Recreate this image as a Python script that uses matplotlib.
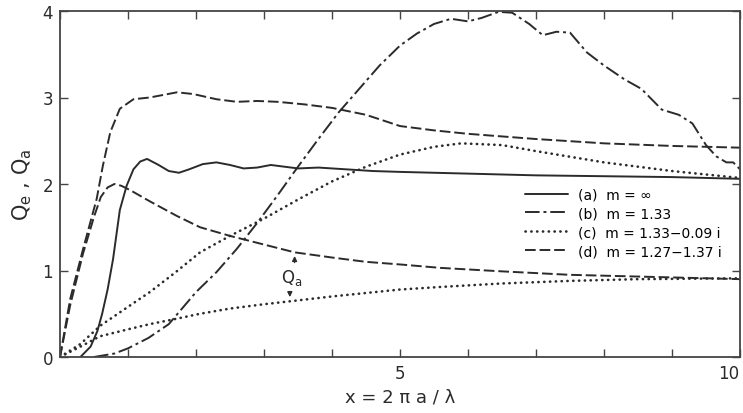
import numpy as np
import matplotlib.pyplot as plt
import matplotlib.transforms as mtransforms

plt.rcParams['font.family'] = 'DejaVu Sans'
plt.rcParams['mathtext.default'] = 'regular'

# (a) m = infinity, extinction
xa = [0.3, 0.45, 0.55, 0.62, 0.7, 0.78, 0.88, 0.98, 1.08, 1.18, 1.28, 1.45, 1.6, 1.75, 1.9,
      2.1, 2.3, 2.5, 2.7, 2.9, 3.1, 3.3, 3.5, 3.8, 4.2, 4.6, 5.0, 6.0, 7.0, 8.0, 9.0, 10.0]
qa_ext = [0.0, 0.12, 0.3, 0.5, 0.78, 1.13, 1.7, 1.98, 2.17, 2.26, 2.29, 2.22, 2.15, 2.13, 2.17,
          2.23, 2.25, 2.22, 2.18, 2.19, 2.22, 2.2, 2.18, 2.19, 2.17, 2.15, 2.14, 2.12, 2.1, 2.09, 2.08, 2.06]

# (b) m = 1.33, extinction
xb = [0.5, 0.8, 1.0, 1.3, 1.6, 2.0, 2.3, 2.6, 2.9, 3.2, 3.5, 3.8, 4.1, 4.4, 4.7, 5.0, 5.25, 5.5,
      5.75, 6.0, 6.2, 6.45, 6.65, 6.9, 7.1, 7.3, 7.5, 7.75, 8.0, 8.3, 8.55, 8.85, 9.1, 9.3, 9.5,
      9.65, 9.8, 9.9, 10.0]
qb_ext = [0.0, 0.04, 0.1, 0.22, 0.38, 0.75, 0.98, 1.25, 1.55, 1.87, 2.2, 2.52, 2.83, 3.1, 3.37,
          3.6, 3.74, 3.85, 3.91, 3.88, 3.92, 3.99, 3.98, 3.85, 3.72, 3.76, 3.75, 3.52, 3.37, 3.21,
          3.1, 2.86, 2.8, 2.7, 2.45, 2.32, 2.25, 2.25, 2.17]

# (c) m = 1.33 - 0.09i, extinction and absorption
xc_ext = [0.0, 0.3, 0.59, 1.0, 1.32, 1.7, 2.06, 2.5, 3.0, 3.5, 4.0, 4.5, 5.0, 5.5, 5.9, 6.5,
          7.0, 8.0, 9.0, 10.0]
qc_ext = [0.0, 0.15, 0.36, 0.58, 0.75, 0.98, 1.21, 1.4, 1.6, 1.82, 2.03, 2.2, 2.34, 2.43,
          2.47, 2.45, 2.38, 2.25, 2.15, 2.07]
xc_abs = [0.0, 0.3, 0.59, 1.0, 1.32, 1.7, 2.06, 2.5, 3.0, 3.45, 4.0, 4.5, 5.0, 5.6, 6.5, 7.5,
          8.5, 10.0]
qc_abs = [0.0, 0.12, 0.24, 0.32, 0.38, 0.44, 0.5, 0.56, 0.61, 0.65, 0.7, 0.74, 0.78, 0.81,
          0.85, 0.88, 0.9, 0.91]

# (d) m = 1.27 - 1.37i, extinction and absorption
xd_ext = [0.0, 0.15, 0.34, 0.54, 0.63, 0.74, 0.88, 1.08, 1.32, 1.72, 1.96, 2.3, 2.6, 2.9, 3.2,
          3.6, 4.0, 4.5, 5.0, 5.5, 6.0, 7.0, 8.0, 9.0, 10.0]
qd_ext = [0.0, 0.67, 1.25, 1.83, 2.21, 2.6, 2.87, 2.98, 3.0, 3.06, 3.04, 2.98, 2.95, 2.96, 2.95,
          2.92, 2.88, 2.8, 2.67, 2.62, 2.58, 2.52, 2.47, 2.44, 2.42]
xd_abs = [0.0, 0.15, 0.34, 0.5, 0.6, 0.7, 0.8, 0.9, 1.03, 1.32, 1.72, 2.06, 2.5, 3.0, 3.45, 4.0,
          4.5, 5.0, 5.6, 6.5, 7.5, 8.5, 10.0]
qd_abs = [0.0, 0.6, 1.2, 1.62, 1.85, 1.96, 2.0, 1.98, 1.93, 1.8, 1.63, 1.5, 1.4, 1.3, 1.21, 1.15,
          1.1, 1.07, 1.03, 0.99, 0.95, 0.93, 0.9]

labels = ['(a)  m = \u221e', '(b)  m = 1.33', '(c)  m = 1.33\u22120.09 i', '(d)  m = 1.27\u22121.37 i']

ink = '#2b2b2b'
lw = 1.4

fig = plt.figure(figsize=(7.43, 4.14), dpi=100)
ax = fig.add_axes([60 / 743, 56 / 414, 680 / 743, 346 / 414])

ha, = ax.plot(xa, qa_ext, color=ink, lw=lw, solid_capstyle='round')
hb, = ax.plot(xb, qb_ext, color=ink, lw=lw, dashes=(7.5, 2, 1.5, 2))
hc, = ax.plot(xc_ext, qc_ext, color=ink, lw=1.9, dashes=(0.1, 2.1), dash_capstyle='round')
ax.plot(xc_abs, qc_abs, color=ink, lw=1.9, dashes=(0.1, 2.1), dash_capstyle='round')
hd, = ax.plot(xd_ext, qd_ext, color=ink, lw=lw, dashes=(5.5, 2))
ax.plot(xd_abs, qd_abs, color=ink, lw=lw, dashes=(5.5, 2))

# absorption label between the two Qa curves
ax.text(3.41, 0.92, 'Q$_a$', ha='center', va='center', fontsize=12, color=ink)
ax.annotate('', xy=(3.45, 1.2), xytext=(3.45, 1.06),
            arrowprops=dict(arrowstyle='-|>', color=ink, lw=1.0, mutation_scale=7))
ax.annotate('', xy=(3.38, 0.66), xytext=(3.38, 0.79),
            arrowprops=dict(arrowstyle='-|>', color=ink, lw=1.0, mutation_scale=7))

ax.legend([ha, hb, hc, hd], labels, loc='upper left', bbox_to_anchor=(0.684, 0.49),
          frameon=False, fontsize=10, handlelength=3.1, handletextpad=0.7,
          labelspacing=0.35, borderpad=0, borderaxespad=0)

ax.set_xlim(0, 10)
ax.set_ylim(0, 4)
ax.set_xticks(np.arange(0, 11, 1))
ax.set_xticklabels(['' if t not in (5, 10) else str(t) for t in range(11)])
ax.set_yticks([0, 1, 2, 3, 4])
ax.tick_params(direction='in', length=6, width=1.0, color='#444444', labelsize=12,
               top=True, right=True, pad=5, labelcolor=ink)
for s in ax.spines.values():
    s.set_linewidth(1.3)
    s.set_color('#444444')

# keep the "10" label inside the canvas
shift = mtransforms.ScaledTranslation(-11 / 100, 0, fig.dpi_scale_trans)
last = ax.get_xticklabels()[-1]
last.set_transform(last.get_transform() + shift)

ax.set_xlabel('x = 2 \u03c0 a / \u03bb', fontsize=13, color=ink, labelpad=4)
ax.set_ylabel('Q$_e$ , Q$_a$', fontsize=15, color=ink, labelpad=6)

fig.savefig('out.png', dpi=100)
